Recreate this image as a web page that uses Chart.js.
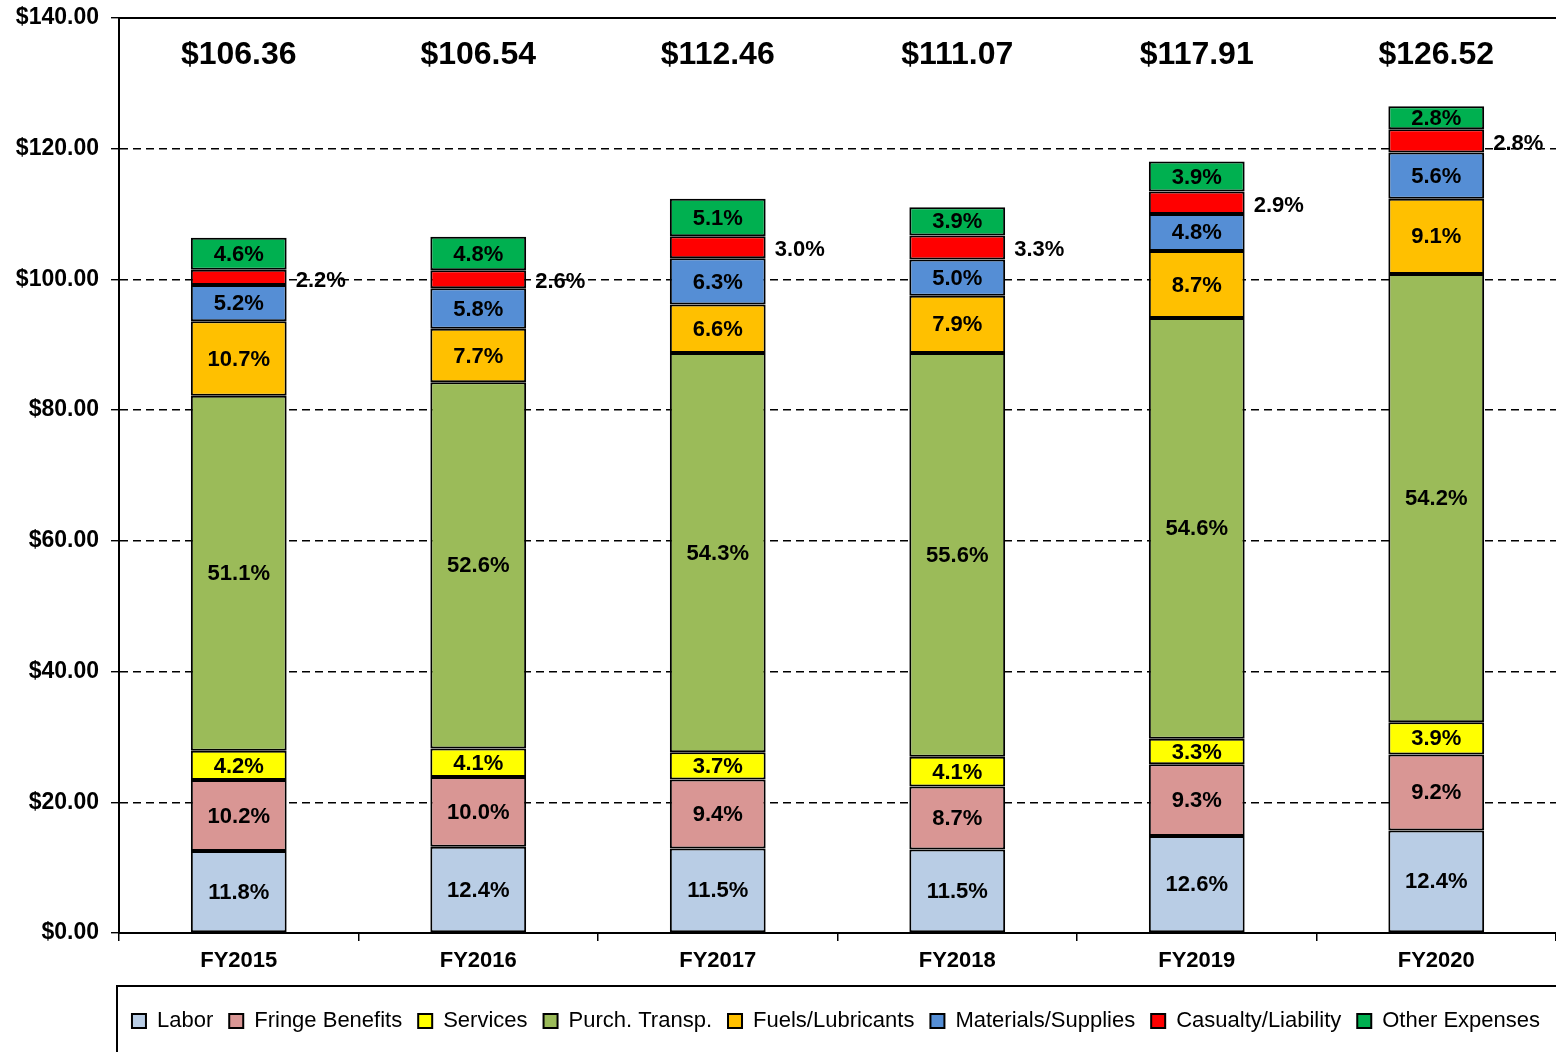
<!DOCTYPE html>
<html>
<head>
<meta charset="utf-8">
<title>Operating Expenses FY2015-FY2020</title>
<script src="https://cdn.jsdelivr.net/npm/chart.js@4.4.1/dist/chart.umd.min.js"></script>
<style>
    html, body { margin: 0; padding: 0; background: #fff; }
    #wrap { width: 1556px; height: 1052px; }
</style>
</head>
<body>
<div id="wrap"><canvas id="costChart" width="1556" height="1052"></canvas></div>
<script>
// Categories and totals
const years = ['FY2015', 'FY2016', 'FY2017', 'FY2018', 'FY2019', 'FY2020'];
const totals = [106.36, 106.54, 112.46, 111.07, 117.91, 126.52];

// Dollar values per expense type
const labor = [12.55, 13.21, 12.93, 12.77, 14.86, 15.69];
const fringe = [10.85, 10.65, 10.57, 9.66, 10.97, 11.64];
const services = [4.47, 4.37, 4.16, 4.55, 3.89, 4.93];
const purchTransp = [54.35, 56.04, 61.07, 61.76, 64.38, 68.57];
const fuels = [11.38, 8.20, 7.42, 8.77, 10.26, 11.51];
const materials = [5.53, 6.18, 7.08, 5.55, 5.66, 7.09];
const casualty = [2.34, 2.77, 3.37, 3.67, 3.42, 3.54];
const other = [4.89, 5.11, 5.74, 4.33, 4.60, 3.54];

// Share labels (percent of total)
const laborPct = [11.8, 12.4, 11.5, 11.5, 12.6, 12.4];
const fringePct = [10.2, 10.0, 9.4, 8.7, 9.3, 9.2];
const servicesPct = [4.2, 4.1, 3.7, 4.1, 3.3, 3.9];
const purchPct = [51.1, 52.6, 54.3, 55.6, 54.6, 54.2];
const fuelsPct = [10.7, 7.7, 6.6, 7.9, 8.7, 9.1];
const materialsPct = [5.2, 5.8, 6.3, 5.0, 4.8, 5.6];
const casualtyPct = [2.2, 2.6, 3.0, 3.3, 2.9, 2.8];
const otherPct = [4.6, 4.8, 5.1, 3.9, 3.9, 2.8];

// Y axis ticks
const yTicks = [0, 20, 40, 60, 80, 100, 120, 140];

const FONT = '"Liberation Sans", Arial, sans-serif';

const series = [
    { name: 'Labor', color: '#B9CDE5', values: labor, pct: laborPct },
    { name: 'Fringe Benefits', color: '#D99694', values: fringe, pct: fringePct },
    { name: 'Services', color: '#FFFF00', values: services, pct: servicesPct },
    { name: 'Purch. Transp.', color: '#9BBB59', values: purchTransp, pct: purchPct },
    { name: 'Fuels/Lubricants', color: '#FFC000', values: fuels, pct: fuelsPct },
    { name: 'Materials/Supplies', color: '#558ED5', values: materials, pct: materialsPct },
    { name: 'Casualty/Liability', color: '#FF0000', values: casualty, pct: casualtyPct, outside: true },
    { name: 'Other Expenses', color: '#00B050', values: other, pct: otherPct }
];

// Labels, totals, top frame line and legend box
const decorPlugin = {
    id: 'decor',
    afterDatasetsDraw(chart) {
        const ctx = chart.ctx;
        const area = chart.chartArea;
        const y = chart.scales.y;
        ctx.save();
        ctx.fillStyle = '#000';
        ctx.textBaseline = 'middle';
        ctx.font = 'bold 22px ' + FONT;
        series.forEach(function (s, i) {
            const meta = chart.getDatasetMeta(i);
            meta.data.forEach(function (bar, j) {
                const mid = (bar.y + bar.base) / 2;
                const txt = s.pct[j].toFixed(1) + '%';
                if (s.outside) {
                    ctx.textAlign = 'left';
                    ctx.fillText(txt, bar.x + bar.width / 2 + 9, mid + 3);
                } else {
                    ctx.textAlign = 'center';
                    ctx.fillText(txt, bar.x, mid + 1);
                }
            });
        });
        // totals above bars
        ctx.font = 'bold 32px ' + FONT;
        ctx.textAlign = 'center';
        const first = chart.getDatasetMeta(0);
        first.data.forEach(function (bar, j) {
            ctx.fillText('$' + totals[j].toFixed(2), bar.x, y.getPixelForValue(134.3));
        });
        // solid top line of plot
        ctx.strokeStyle = '#000';
        ctx.lineWidth = 2;
        ctx.beginPath();
        ctx.moveTo(area.left, area.top);
        ctx.lineTo(area.right, area.top);
        ctx.stroke();
        ctx.restore();
    },
    afterDraw(chart) {
        const lg = chart.legend;
        const ctx = chart.ctx;
        ctx.save();
        ctx.strokeStyle = '#000';
        ctx.lineWidth = 2;
        ctx.strokeRect(117, lg.top - 8, chart.width, chart.height);
        ctx.restore();
    }
};

const costChart = new Chart(document.getElementById('costChart'), {
    type: 'bar',
    data: {
        labels: years,
        datasets: series.map(function (s) {
            return {
                label: s.name,
                data: s.values,
                backgroundColor: s.color,
                borderColor: '#000',
                borderWidth: 2,
                borderSkipped: false,
                barPercentage: 0.4,
                categoryPercentage: 1.0
            };
        })
    },
    plugins: [decorPlugin],
    options: {
        responsive: false,
        animation: false,
        layout: { padding: { top: 18, left: 0, right: 0, bottom: 10 } },
        scales: {
            x: {
                stacked: true,
                grid: { drawOnChartArea: false, offset: true, tickLength: 8, color: '#000', lineWidth: 1.5 },
                border: { color: '#000', width: 2 },
                ticks: { color: '#000', padding: 7, font: { family: FONT, size: 22, weight: 'bold' } },
                afterFit: function (scale) { scale.height = 61; }
            },
            y: {
                stacked: true,
                min: 0,
                max: 140,
                afterBuildTicks: function (scale) {
                    scale.ticks = yTicks.map(function (v) { return { value: v }; });
                },
                grid: { color: '#000', lineWidth: 1.4, tickLength: 8 },
                border: { color: '#000', width: 2, dash: [8, 5] },
                ticks: {
                    color: '#000',
                    padding: 12,
                    font: { family: FONT, size: 23, weight: 'bold' },
                    callback: function (v) { return '$' + Number(v).toFixed(2); }
                },
                afterFit: function (scale) {
                    scale.width = 119;
                    scale.paddingTop = 0;
                    scale.paddingBottom = 0;
                }
            }
        },
        plugins: {
            legend: {
                position: 'bottom',
                align: 'end',
                labels: {
                    color: '#000',
                    boxWidth: 14,
                    boxHeight: 14,
                    padding: 16,
                    font: { family: FONT, size: 22 }
                }
            },
            tooltip: { enabled: false }
        }
    }
});
</script>
</body>
</html>
